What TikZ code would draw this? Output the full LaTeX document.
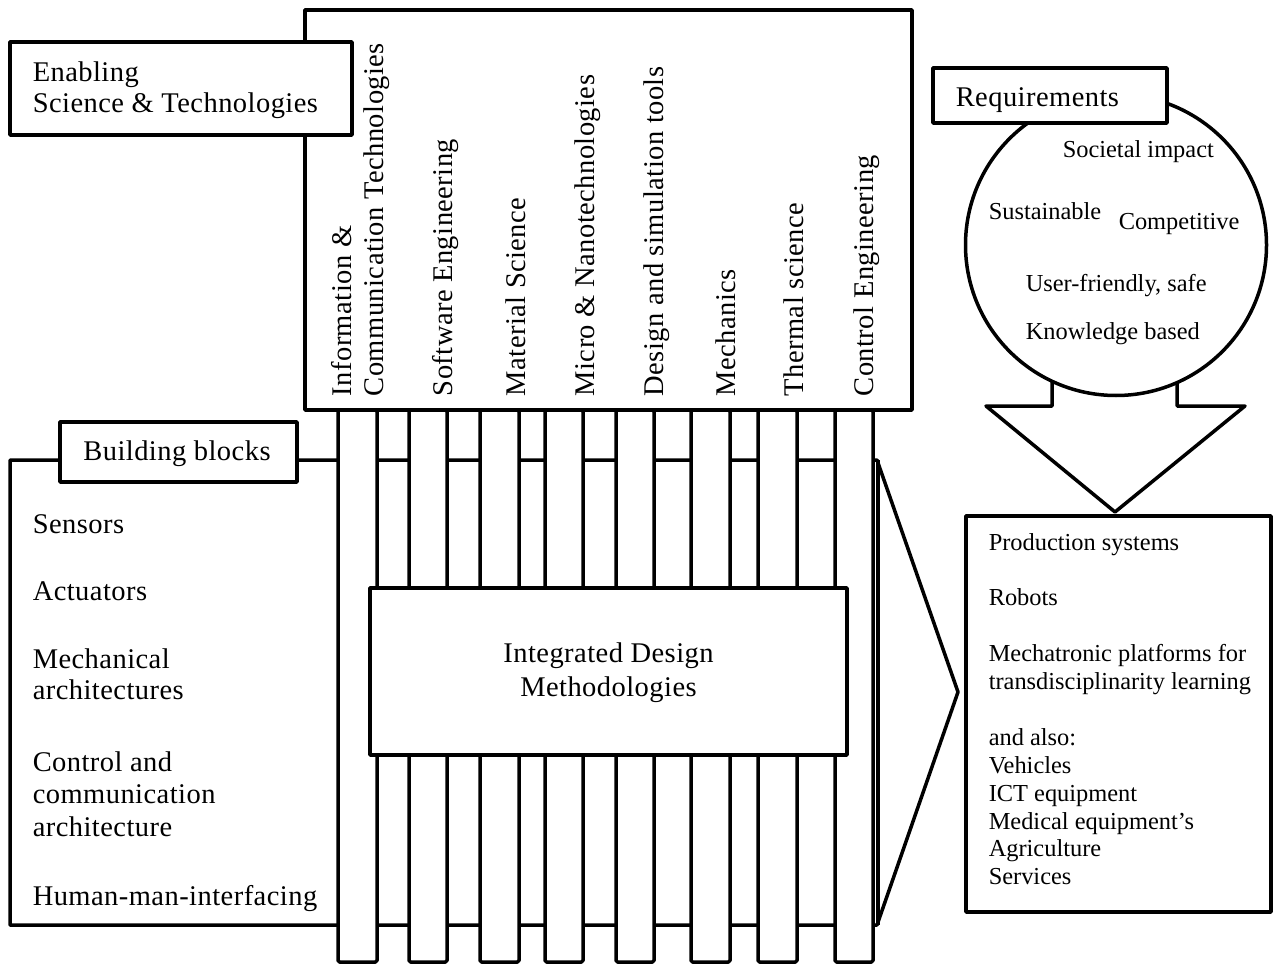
\documentclass[tikz,border=0pt]{standalone}
\usepackage{fontspec}
\setmainfont{Liberation Serif}
\newfontfamily\widefont[LetterSpace=1.6]{Liberation Serif}
\begin{document}
\begin{tikzpicture}[x=1pt,y=-1pt,
  line width=3.5pt, line join=round,
  box/.style={draw, line width=3.5pt, fill=white},
  bar/.style={draw, line width=3.5pt, fill=white, rounded corners=1.5pt},
  big/.style={font=\widefont\fontsize{28.5}{32}\selectfont, inner sep=0pt},
  small/.style={font=\fontsize{24.4}{27.9}\selectfont, inner sep=0pt},
  vlab/.style={big, rotate=90, anchor=base west},
  lab/.style={big, anchor=base west},
  slab/.style={small, anchor=base west}]
\useasboundingbox (0,0) rectangle (1274,965);

% building blocks area with chevron
\draw[box] (10,460) -- (877,460) -- (958,692) -- (877,925) -- (10,925) -- cycle;
\draw (878,460) -- (878,925);

% enabling technologies box
\draw[box] (305,10) rectangle (912,410);

% vertical bars
\foreach \a/\b in {338/377, 409/447, 480/519, 545/583, 616/654, 691/730, 758/797, 835/873}
  \draw[bar] (\a,410) rectangle (\b,962);

% integrated design methodologies
\draw[box] (370,588) rectangle (847,755);
\node[big, anchor=base] (idm1) at (608.5,662) {Integrated Design};
\node[big, anchor=base] (idm2) at (608.5,696) {Methodologies};

% Enabling label
\draw[box] (10,42) rectangle (352,135);
\node[lab] (en1) at (31,82) {Enabling};
\node[lab] (en2) at (31,113) {Science \& Technologies};

% rotated technology labels
\node[vlab] (t1a) at (351,398) {Information \&};
\node[vlab] (t1b) at (383,398) {Communication Technologies};
\node[vlab] (t2) at (452,398) {Software Engineering};
\node[vlab] (t3) at (525,398) {Material Science};
\node[vlab] (t4) at (594,398) {Micro \& Nanotechnologies};
\node[vlab] (t5) at (663,398) {Design and simulation tools};
\node[vlab] (t6) at (735,398) {Mechanics};
\node[vlab] (t7) at (803,398) {Thermal science};
\node[vlab] (t8) at (873,398) {Control Engineering};

% Building blocks label
\draw[box] (60,422) rectangle (297,482);
\node[big, anchor=base] (bb) at (177,460) {Building blocks};
\node[lab] (b1) at (31,533) {Sensors};
\node[lab] (b2) at (31,600) {Actuators};
\node[lab] (b3a) at (31,668) {Mechanical};
\node[lab] (b3b) at (31,699) {architectures};
\node[lab] (b4a) at (31,771) {Control and};
\node[lab] (b4b) at (31,803) {communication};
\node[lab] (b4c) at (31,836) {architecture};
\node[lab] (b5) at (31,905) {Human-man-interfacing};

% requirements arrow and circle
\draw[box] (1052,300) -- (1052,406) -- (986,406) -- (1115,512) -- (1245,406) -- (1177,406) -- (1177,300);
\draw[box] (1116,245) circle[radius=150.5];
\draw[box] (933,68) rectangle (1167,123);
\node[lab] (req) at (954,107) {Requirements};
\node[slab] (r1) at (1061,158) {Societal impact};
\node[slab] (r2) at (987,220) {Sustainable};
\node[slab] (r3) at (1117,230) {Competitive};
\node[slab] (r4) at (1024,292) {User-friendly, safe};
\node[slab] (r5) at (1024,340) {Knowledge based};

% applications box
\draw[box] (966,516) rectangle (1271,912);
\node[slab] (p1) at (987,550) {Production systems};
\node[slab] (p2) at (987,605.8) {Robots};
\node[slab] (p3) at (987,661.6) {Mechatronic platforms for};
\node[slab] (p4) at (987,689.5) {transdisciplinarity learning};
\node[slab] (p5) at (987,745.3) {and also:};
\node[slab] (p6) at (987,773.2) {Vehicles};
\node[slab] (p7) at (987,801.1) {ICT equipment};
\node[slab] (p8) at (987,829) {Medical equipment’s};
\node[slab] (p9) at (987,856.9) {Agriculture};
\node[slab] (p10) at (987,884.8) {Services};
\end{tikzpicture}
\end{document}
